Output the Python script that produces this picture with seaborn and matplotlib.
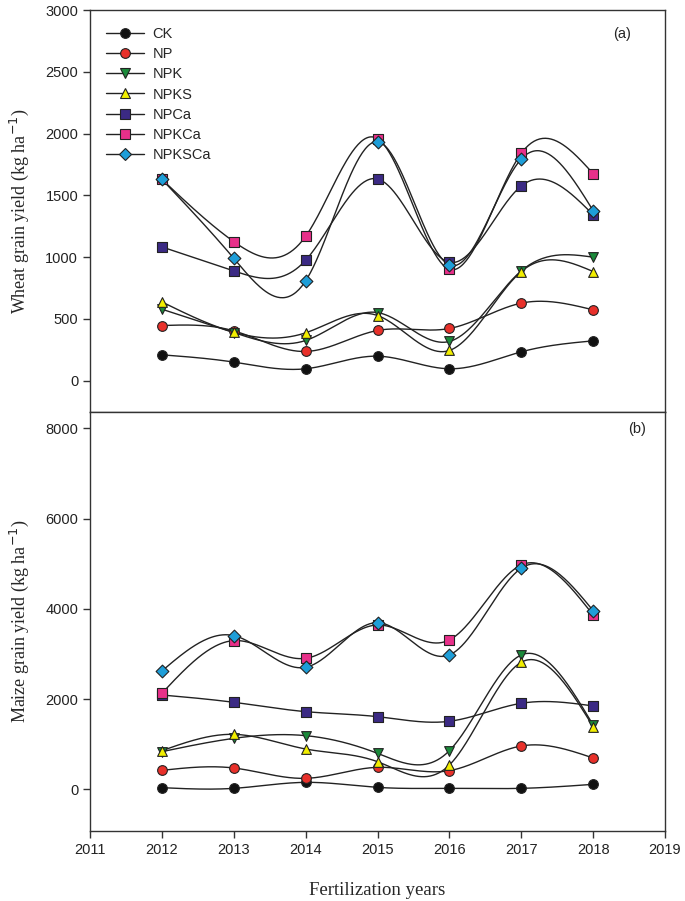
import numpy as np
import pandas as pd
import matplotlib
matplotlib.use("Agg")
import matplotlib.pyplot as plt
from matplotlib.lines import Line2D
import seaborn as sns

years = [2012, 2013, 2014, 2015, 2016, 2017, 2018]
treatments = ["CK", "NP", "NPK", "NPKS", "NPCa", "NPKCa", "NPKSCa"]

# wheat grain yield (kg/ha), panel (a)
wheat_ck = [210, 151, 97, 199, 97, 234, 323]
wheat_np = [447, 404, 237, 407, 423, 628, 574]
wheat_npk = [579, 390, 326, 552, 318, 889, 1000]
wheat_npks = [638, 393, 388, 528, 245, 884, 884]
wheat_npca = [1083, 889, 975, 1633, 959, 1576, 1344]
wheat_npkca = [1630, 1126, 1169, 1959, 902, 1840, 1676]
wheat_npksca = [1630, 991, 808, 1934, 937, 1794, 1377]

# maize grain yield (kg/ha), panel (b)
maize_ck = [37, 22, 155, 44, 22, 22, 111]
maize_np = [421, 473, 244, 488, 414, 961, 695]
maize_npk = [835, 1130, 1190, 798, 857, 2978, 1426]
maize_npks = [857, 1219, 894, 613, 539, 2816, 1389]
maize_npca = [2091, 1929, 1722, 1611, 1508, 1907, 1848]
maize_npkca = [2128, 3296, 2904, 3643, 3311, 4973, 3865]
maize_npksca = [2623, 3407, 2705, 3695, 2978, 4900, 3961]

wheat = [wheat_ck, wheat_np, wheat_npk, wheat_npks, wheat_npca, wheat_npkca, wheat_npksca]
maize = [maize_ck, maize_np, maize_npk, maize_npks, maize_npca, maize_npkca, maize_npksca]

colors = ["#111111", "#e8302a", "#1a8a3a", "#f2ee00", "#3b2a84", "#e8308a", "#1e9ed8"]
markers = ["o", "o", "v", "^", "s", "s", "D"]
msizes = [7, 7, 7, 7, 6.5, 6.5, 6.5]


def natural_spline(x, y, n=300):
    # natural cubic spline through the points, like SigmaPlot's spline curve
    x = np.asarray(x, float)
    y = np.asarray(y, float)
    k = len(x)
    h = np.diff(x)
    A = np.zeros((k, k))
    b = np.zeros(k)
    A[0, 0] = A[-1, -1] = 1
    for i in range(1, k - 1):
        A[i, i - 1] = h[i - 1]
        A[i, i] = 2 * (h[i - 1] + h[i])
        A[i, i + 1] = h[i]
        b[i] = 6 * ((y[i + 1] - y[i]) / h[i] - (y[i] - y[i - 1]) / h[i - 1])
    M = np.linalg.solve(A, b)
    xs = np.linspace(x[0], x[-1], n)
    idx = np.clip(np.searchsorted(x, xs) - 1, 0, k - 2)
    t0 = xs - x[idx]
    t1 = x[idx + 1] - xs
    hi = h[idx]
    ys = (M[idx] * t1 ** 3 + M[idx + 1] * t0 ** 3) / (6 * hi) \
        + (y[idx] / hi - M[idx] * hi / 6) * t1 \
        + (y[idx + 1] / hi - M[idx + 1] * hi / 6) * t0
    return xs, ys


sns.set_style("ticks")
plt.rcParams["font.family"] = ["Liberation Sans", "DejaVu Sans"]

fig = plt.figure(figsize=(6.85, 9.01), dpi=100)
ax1 = fig.add_axes([0.1314, 0.5431, 0.8394, 0.4458])
ax2 = fig.add_axes([0.1314, 0.0780, 0.8394, 0.4650])


def draw(ax, series):
    for name, vals, c, m, ms in zip(treatments, series, colors, markers, msizes):
        xs, ys = natural_spline(years, vals)
        ax.plot(xs, ys, color="#222222", lw=1.0, zorder=2)
        df = pd.DataFrame({"year": years, "val": vals})
        sns.scatterplot(data=df, x="year", y="val", ax=ax, marker=m, s=ms ** 2,
                        color=c, edgecolor="#222222", linewidth=0.8, zorder=3, legend=False)
    ax.set_xlim(2011, 2019)
    for sp in ax.spines.values():
        sp.set_visible(True)
        sp.set_color("#333333")
        sp.set_linewidth(1.0)
    ax.tick_params(direction="out", length=5, width=1, color="#333333",
                   labelsize=10.5, labelcolor="#222222")


draw(ax1, wheat)
draw(ax2, maize)

ax1.set_ylim(-250, 3000)
ax1.set_yticks([0, 500, 1000, 1500, 2000, 2500, 3000])
ax1.set_xticks([])
ax1.set_xlabel("")
ax1.set_ylabel("Wheat grain yield (kg ha$^{-1}$)", family="Liberation Serif",
                fontsize=13, labelpad=10)
ax1.text(0.925, 0.94, "(a)", transform=ax1.transAxes, fontsize=10.5, ha="center", va="center")

ax2.set_ylim(-917, 8368)
ax2.set_yticks([0, 2000, 4000, 6000, 8000])
ax2.set_xticks(range(2011, 2020))
ax2.set_xlabel("Fertilization years", family="Liberation Serif", fontsize=13.5, labelpad=18)
ax2.set_ylabel("Maize grain yield (kg ha$^{-1}$)", family="Liberation Serif",
                fontsize=13, labelpad=10)
ax2.text(0.952, 0.96, "(b)", transform=ax2.transAxes, fontsize=10.5, ha="center", va="center")

handles = [Line2D([0], [0], color="#222222", lw=1.0, marker=m, markersize=ms,
                  markerfacecolor=c, markeredgecolor="#222222", markeredgewidth=0.8)
           for c, m, ms in zip(colors, markers, msizes)]
ax1.legend(handles, treatments, loc="upper left", bbox_to_anchor=(0.005, 0.99),
           frameon=False, fontsize=10.5, handlelength=2.6, labelspacing=0.42,
           handletextpad=0.6, borderaxespad=0.5)

fig.savefig("out.png", dpi=100)
